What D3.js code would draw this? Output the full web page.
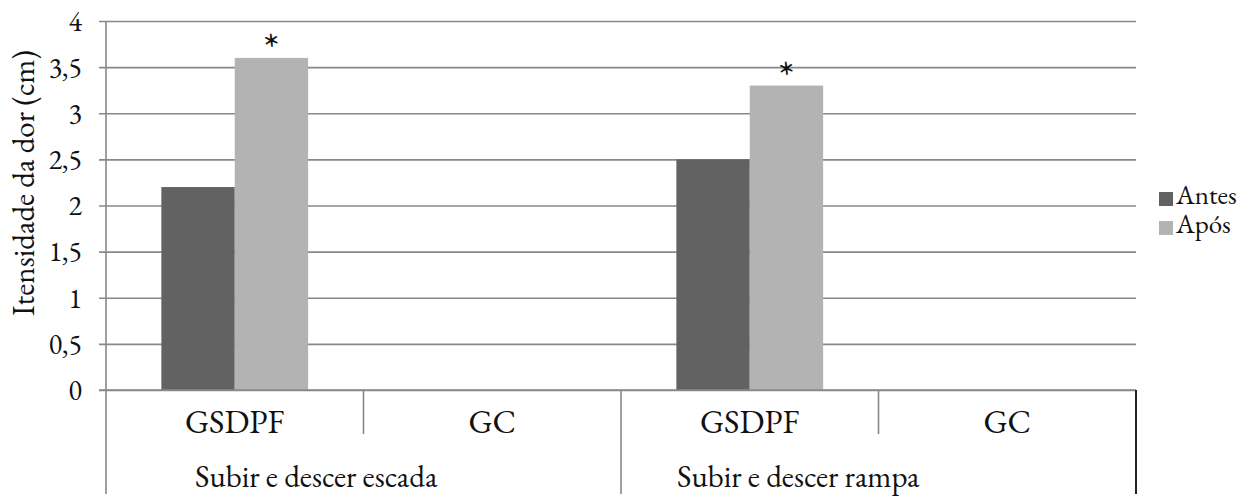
<!DOCTYPE html>
<html>
<head>
<meta charset="utf-8">
<script src="https://cdn.jsdelivr.net/npm/d3@7/dist/d3.min.js"></script>
</head>
<body style="margin:0">
<svg id="chart" width="1256" height="497"></svg>
<script>
// ---- data ----
const categories = ["GSDPF", "GC", "GSDPF", "GC"];
const groupLabels = ["Subir e descer escada", "Subir e descer rampa"];
const seriesNames = ["Antes", "Após"];
const antesValues = [2.2, null, 2.5, null];
const aposValues = [3.6, null, 3.3, null];
const aposSignificant = [true, false, true, false];
const yTickValues = [0, 0.5, 1, 1.5, 2, 2.5, 3, 3.5, 4];

// ---- layout ----
const FONT = "'EB Garamond', 'Liberation Serif', 'Times New Roman', serif";
const plot = { left: 106, right: 1136, top: 21, bottom: 390 };
const colors = ["#626262", "#b3b3b3"];
const gridColor = "#888888";
const textColor = "#111111";

const svg = d3.select("#chart").attr("font-family", FONT).style("font-family", FONT);

function styleText(sel, size) {
  return sel.attr("font-family", FONT).style("font-family", FONT)
    .attr("font-size", size).style("font-size", size + "px")
    .attr("fill", textColor);
}

const x = d3.scaleBand()
  .domain(d3.range(categories.length))
  .range([plot.left, plot.right])
  .paddingInner(0.43)
  .paddingOuter(0.215);

const xs = d3.scaleBand().domain(seriesNames).range([0, x.bandwidth()]);

const y = d3.scaleLinear().domain([0, 4]).range([plot.bottom, plot.top]);

const yAxis = d3.axisLeft(y)
  .tickValues(yTickValues)
  .tickSize(-(plot.right - plot.left))
  .tickFormat(d => d3.format("")(d).replace(".", ","));

const gy = svg.append("g")
  .attr("transform", `translate(${plot.left},0)`)
  .call(yAxis)
  .attr("font-family", FONT);
gy.select(".domain").remove();
gy.selectAll(".tick line").attr("stroke", gridColor).attr("stroke-width", 1.6).attr("x1", -7);
styleText(gy.selectAll(".tick text").attr("x", -24).attr("dy", "0.33em"), 28);

const seriesData = [antesValues, aposValues];
seriesData.forEach((vals, si) => {
  svg.append("g").selectAll("rect")
    .data(vals.map((v, i) => ({ v, i })).filter(d => d.v != null))
    .join("rect")
    .attr("x", d => x(d.i) + xs(seriesNames[si]))
    .attr("width", xs.bandwidth())
    .attr("y", d => y(d.v))
    .attr("height", d => y(0) - y(d.v))
    .attr("fill", colors[si]);
});

styleText(svg.append("g").selectAll("text")
  .data(aposValues.map((v, i) => ({ v, i })).filter(d => d.v != null && aposSignificant[d.i]))
  .join("text")
  .attr("x", d => x(d.i) + xs("Após") + xs.bandwidth() / 2)
  .attr("y", d => y(d.v) + 6)
  .attr("text-anchor", "middle")
  .text("*"), 46);

svg.append("line")
  .attr("x1", plot.left).attr("x2", plot.left)
  .attr("y1", plot.top).attr("y2", 494)
  .attr("stroke", gridColor).attr("stroke-width", 1.6);

svg.append("line")
  .attr("x1", plot.left - 7).attr("x2", plot.right)
  .attr("y1", plot.bottom).attr("y2", plot.bottom)
  .attr("stroke", gridColor).attr("stroke-width", 1.6);

const step = x.step();
const boundaries = d3.range(1, categories.length + 1).map(k => plot.left + k * step);
boundaries.forEach((bx, k) => {
  const isGroupEdge = (k + 1) % 2 === 0;
  const isLast = k === categories.length - 1;
  svg.append("line")
    .attr("x1", bx).attr("x2", bx)
    .attr("y1", plot.bottom)
    .attr("y2", isGroupEdge ? 494 : 434)
    .attr("stroke", isLast ? "#222" : gridColor)
    .attr("stroke-width", isLast ? 2 : 1.6);
});

styleText(svg.append("g").selectAll("text")
  .data(categories)
  .join("text")
  .attr("x", (d, i) => x(i) + x.bandwidth() / 2)
  .attr("y", 433)
  .attr("text-anchor", "middle")
  .text(d => d), 33);

const groupOffsets = [89, 56];
styleText(svg.append("g").selectAll("text")
  .data(groupLabels)
  .join("text")
  .attr("x", (d, g) => plot.left + g * 2 * step + groupOffsets[g])
  .attr("y", 487)
  .attr("text-anchor", "start")
  .text(d => d), 31);

styleText(svg.append("text")
  .attr("transform", "translate(23,183) rotate(-90)")
  .attr("text-anchor", "middle")
  .attr("dominant-baseline", "central")
  .text("Itensidade da dor (cm)"), 31);

const legend = svg.append("g").attr("transform", "translate(1159,192)");
seriesNames.forEach((name, i) => {
  const g = legend.append("g").attr("transform", `translate(0,${i * 29})`);
  g.append("rect").attr("width", 14).attr("height", 14).attr("fill", colors[i]);
  styleText(g.append("text").attr("x", 17).attr("y", 12).text(name), 27);
});
</script>
</body>
</html>
